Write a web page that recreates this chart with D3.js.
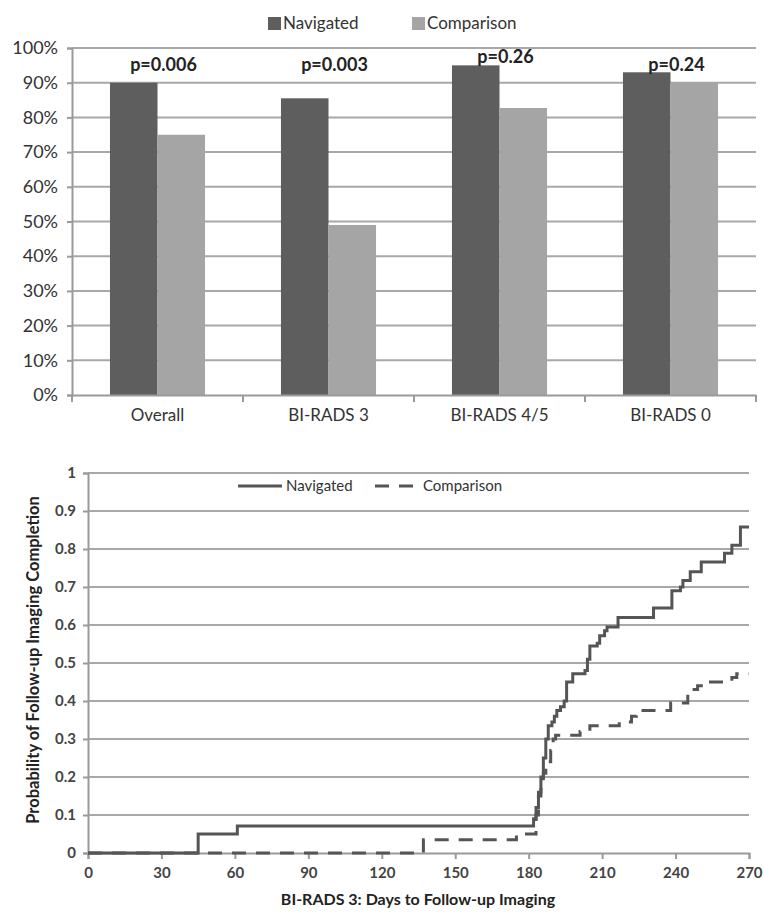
<!DOCTYPE html>
<html>
<head>
<meta charset="utf-8">
<script src="https://cdn.jsdelivr.net/npm/d3@7"></script>
<style>
body { margin: 0; background: #fff; }
svg { font-family: Lato, "Open Sans", sans-serif; }
</style>
</head>
<body>
<div id="chart"></div>
<script>
// top chart: % completion by group
var categories = ["Overall", "BI-RADS 3", "BI-RADS 4/5", "BI-RADS 0"];
var seriesNames = ["Navigated", "Comparison"];
var navigatedPct = [90, 85.5, 95, 93];
var comparisonPct = [75, 49, 82.7, 90];
var pLabels = ["p=0.006", "p=0.003", "p=0.26", "p=0.24"];
var pLabelPos = [93.5, 93.5, 95.8, 93.5];
var pctTicks = [0, 10, 20, 30, 40, 50, 60, 70, 80, 90, 100];

// bottom chart: step curves (day, probability)
var navDays = [0, 45, 61, 182, 183, 184, 185, 186, 187, 188, 189.5, 190.5, 191.5, 193, 194.5, 195.5, 198, 203, 204, 205, 208, 209, 211, 212, 216.5, 231, 238.5, 242, 243, 246, 250.5, 260, 263, 266.5, 270];
var navProb = [0, 0.05, 0.071, 0.09, 0.12, 0.16, 0.2, 0.25, 0.3, 0.335, 0.345, 0.36, 0.375, 0.385, 0.4, 0.45, 0.472, 0.48, 0.51, 0.545, 0.552, 0.572, 0.585, 0.595, 0.62, 0.645, 0.69, 0.7, 0.717, 0.74, 0.766, 0.789, 0.81, 0.858, 0.858];
var compDays = [0, 137, 175, 183, 184, 185, 186, 187, 189, 190, 191, 201, 205, 217, 222, 224, 238, 245, 249, 252, 263, 265, 270];
var compProb = [0, 0.035, 0.05, 0.1, 0.15, 0.18, 0.21, 0.24, 0.27, 0.3, 0.31, 0.32, 0.335, 0.345, 0.36, 0.375, 0.395, 0.43, 0.44, 0.45, 0.462, 0.472, 0.472];
var dayTicks = [0, 30, 60, 90, 120, 150, 180, 210, 240, 270];
var probTicks = [0, 0.1, 0.2, 0.3, 0.4, 0.5, 0.6, 0.7, 0.8, 0.9, 1];

var colors = {Navigated: "#5e5e5e", Comparison: "#a5a5a5"};
var gridColor = "#a8a8a8";
var axisColor = "#9a9a9a";

var svg = d3.select("#chart").append("svg")
	.attr("width", 764)
	.attr("height", 912);

// ---------- top bar chart ----------
var m1 = {left: 72, top: 48, width: 684, height: 347};
var g1 = svg.append("g").attr("transform", "translate(" + m1.left + "," + m1.top + ")");

var x0 = d3.scaleBand().domain(categories).range([0, m1.width]);
var x1 = d3.scaleBand().domain(seriesNames)
	.range([x0.bandwidth() * 0.222, x0.bandwidth() * 0.778]);
var y1 = d3.scaleLinear().domain([0, 100]).range([m1.height, 0]);

// gridlines
g1.append("g").selectAll("line")
	.data(pctTicks.filter(function(d) { return d > 0; }))
	.join("line")
	.attr("x1", 0).attr("x2", m1.width)
	.attr("y1", function(d) { return y1(d); })
	.attr("y2", function(d) { return y1(d); })
	.attr("stroke", gridColor)
	.attr("stroke-width", 2);

var rows = categories.map(function(c, i) {
	return {cat: c, Navigated: navigatedPct[i], Comparison: comparisonPct[i], p: pLabels[i], pPos: pLabelPos[i]};
});

var groups = g1.append("g").selectAll("g")
	.data(rows)
	.join("g")
	.attr("transform", function(d) { return "translate(" + x0(d.cat) + ",0)"; });

groups.selectAll("rect")
	.data(function(d) { return seriesNames.map(function(s) { return {key: s, value: d[s]}; }); })
	.join("rect")
	.attr("x", function(d) { return x1(d.key); })
	.attr("width", x1.bandwidth())
	.attr("y", function(d) { return y1(d.value); })
	.attr("height", function(d) { return m1.height - y1(d.value); })
	.attr("fill", function(d) { return colors[d.key]; });

groups.append("text")
	.attr("x", x0.bandwidth() / 2 + 6)
	.attr("y", function(d) { return y1(d.pPos); })
	.attr("text-anchor", "middle")
	.attr("font-size", 18)
	.attr("font-weight", "bold")
	.attr("fill", "#222")
	.text(function(d) { return d.p; });

// axes
var yAxis1 = g1.append("g")
	.call(d3.axisLeft(y1).tickValues(pctTicks).tickSize(5).tickPadding(9)
		.tickFormat(function(d) { return d + "%"; }));
yAxis1.select(".domain").attr("stroke", axisColor).attr("stroke-width", 2);
yAxis1.selectAll(".tick line").attr("stroke", axisColor).attr("stroke-width", 2);
yAxis1.selectAll("text").attr("font-size", 18).attr("fill", "#333").attr("font-family", "Lato, sans-serif");

var xAxis1 = g1.append("g")
	.attr("transform", "translate(0," + m1.height + ")")
	.call(d3.axisBottom(x0).tickSize(0).tickPadding(14));
xAxis1.select(".domain").attr("stroke", axisColor).attr("stroke-width", 2);
xAxis1.selectAll("text").attr("font-size", 17).attr("fill", "#333").attr("font-family", "Lato, sans-serif");
xAxis1.append("g").selectAll("line")
	.data(d3.range(categories.length + 1))
	.join("line")
	.attr("x1", function(i) { return i * x0.step(); })
	.attr("x2", function(i) { return i * x0.step(); })
	.attr("y1", 0).attr("y2", 7)
	.attr("stroke", axisColor).attr("stroke-width", 2);

// legend
var leg1 = svg.append("g").attr("transform", "translate(268,14)");
var leg1Off = [0, 144];
seriesNames.forEach(function(s, i) {
	var lg = leg1.append("g").attr("transform", "translate(" + leg1Off[i] + ",0)");
	lg.append("rect").attr("width", 13).attr("height", 13).attr("y", 3).attr("fill", colors[s]);
	lg.append("text").attr("x", 15).attr("y", 15).attr("font-size", 17).attr("fill", "#333").text(s);
});

// ---------- bottom step chart ----------
var m2 = {left: 88, top: 473, width: 661, height: 380};
var g2 = svg.append("g").attr("transform", "translate(" + m2.left + "," + m2.top + ")");

var xd = d3.scaleLinear().domain([0, 270]).range([0, m2.width]);
var yp = d3.scaleLinear().domain([0, 1]).range([m2.height, 0]);

g2.append("g").selectAll("line")
	.data(probTicks.filter(function(d) { return d > 0; }))
	.join("line")
	.attr("x1", 0).attr("x2", m2.width)
	.attr("y1", function(d) { return yp(d); })
	.attr("y2", function(d) { return yp(d); })
	.attr("stroke", gridColor)
	.attr("stroke-width", 2);

var yAxis2 = g2.append("g")
	.call(d3.axisLeft(yp).tickValues(probTicks).tickSize(5).tickPadding(7)
		.tickFormat(function(d) { return d === 0 || d === 1 ? d : d.toFixed(1); }));
yAxis2.select(".domain").attr("stroke", axisColor).attr("stroke-width", 2);
yAxis2.selectAll(".tick line").attr("stroke", axisColor).attr("stroke-width", 2);
yAxis2.selectAll("text").attr("font-size", 15).attr("font-weight", "bold").attr("fill", "#444").attr("font-family", "Lato, sans-serif");

var xAxis2 = g2.append("g")
	.attr("transform", "translate(0," + m2.height + ")")
	.call(d3.axisBottom(xd).tickValues(dayTicks).tickSize(6).tickPadding(8));
xAxis2.select(".domain").attr("stroke", axisColor).attr("stroke-width", 2);
xAxis2.selectAll(".tick line").attr("stroke", axisColor).attr("stroke-width", 2);
xAxis2.selectAll("text").attr("font-size", 15).attr("font-weight", "bold").attr("fill", "#444").attr("font-family", "Lato, sans-serif");

var step = d3.line()
	.x(function(d) { return xd(d[0]); })
	.y(function(d) { return yp(d[1]); })
	.curve(d3.curveStepAfter);

g2.append("path")
	.datum(d3.zip(compDays, compProb))
	.attr("fill", "none")
	.attr("stroke", "#555")
	.attr("stroke-width", 3)
	.attr("stroke-dasharray", "14,10")
	.attr("d", step);

g2.append("path")
	.datum(d3.zip(navDays, navProb))
	.attr("fill", "none")
	.attr("stroke", "#555")
	.attr("stroke-width", 3)
	.attr("d", step);

// axis titles
svg.append("text")
	.attr("x", 418)
	.attr("y", 905)
	.attr("text-anchor", "middle")
	.attr("font-size", 16)
	.attr("font-weight", "bold")
	.attr("fill", "#222")
	.text("BI-RADS 3: Days to Follow-up Imaging");

svg.append("text")
	.attr("transform", "translate(39,660) rotate(-90)")
	.attr("text-anchor", "middle")
	.attr("font-size", 16.5)
	.attr("font-weight", "bold")
	.attr("fill", "#222")
	.text("Probability of Follow-up Imaging Completion");

// legend
var leg2 = svg.append("g").attr("transform", "translate(238,486)");
var leg2Off = [0, 137];
seriesNames.forEach(function(s, i) {
	var lg = leg2.append("g").attr("transform", "translate(" + leg2Off[i] + ",0)");
	lg.append("line").attr("x1", 0).attr("x2", 44).attr("y1", 0).attr("y2", 0)
		.attr("stroke", "#555").attr("stroke-width", 3)
		.attr("stroke-dasharray", i === 1 ? "14,10" : null);
	lg.append("text").attr("x", 48).attr("y", 5).attr("font-size", 15).attr("fill", "#333").text(s);
});
</script>
</body>
</html>
